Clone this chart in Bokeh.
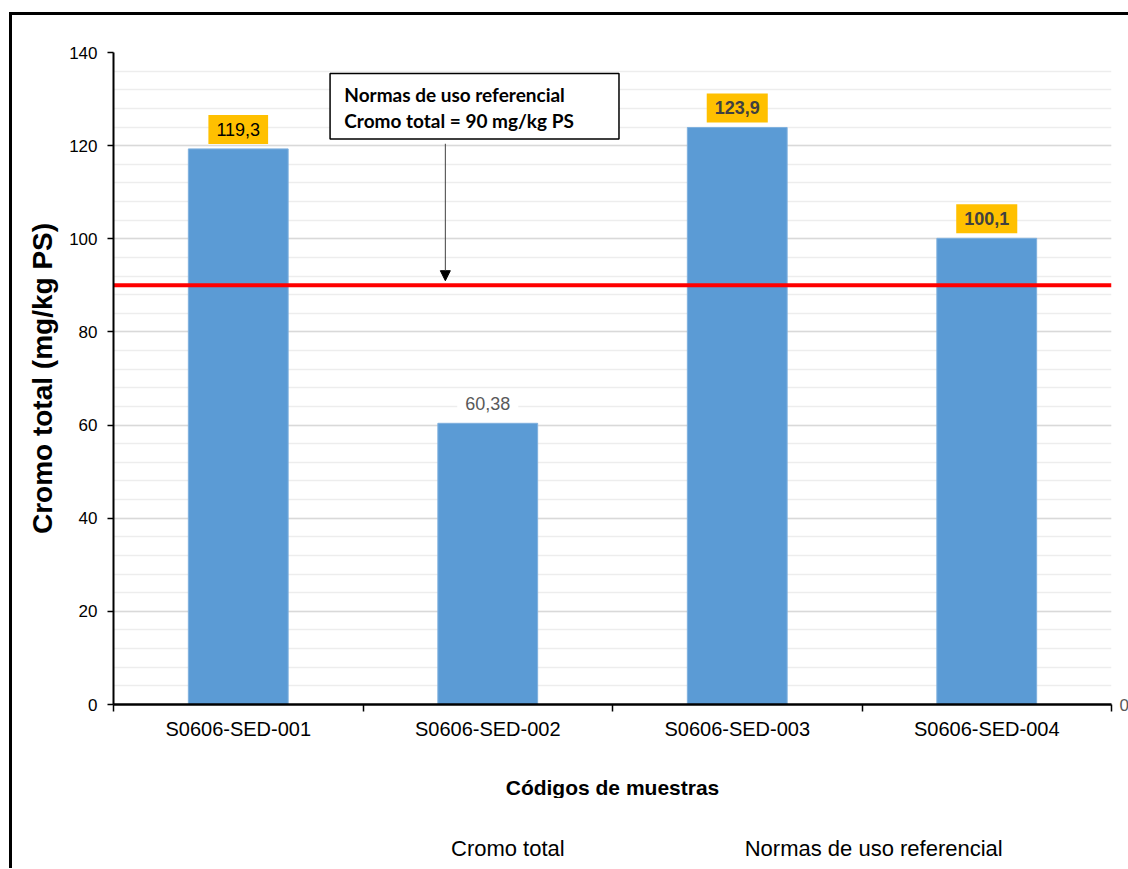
from bokeh.plotting import figure
from bokeh.layouts import column
from bokeh.models import (Range1d, LinearAxis, FixedTicker, ColumnDataSource,
                          SingleIntervalTicker, BoxAnnotation, Label, Arrow, NormalHead,
                          Legend, LegendItem)
from bokeh.embed import file_html
from bokeh.resources import INLINE

# ---- data ----
categories = ["S0606-SED-001", "S0606-SED-002", "S0606-SED-003", "S0606-SED-004"]
values = [119.3, 60.38, 123.9, 100.1]
threshold = 90
y_max = 140
value_text = [str(v).replace(".", ",") for v in values]
label_bg = ["#FFC000", "white", "#FFC000", "#FFC000"]
label_color = ["black", "#595959", "#404040", "#404040"]
label_style = ["normal", "normal", "bold", "bold"]
note_lines = ["Normas de uso referencial", "Cromo total = 90 mg/kg PS"]
legend_labels = ["Cromo total", "Normas de uso referencial"]

FONT = "Liberation Sans"
BAR_COLOR = "#5B9BD5"
BAR_EDGE = "#7FB0DE"
REF_COLOR = "#FF0000"

n = len(categories)
centers = [i + 0.5 for i in range(n)]
src = ColumnDataSource(dict(x=centers, top=values, cat=categories))

p = figure(frame_width=995, frame_height=649, x_range=Range1d(0, n),
           y_range=Range1d(0, y_max), output_backend="svg", toolbar_location=None,
           x_axis_location=None, y_axis_location="left",
           min_border_left=101, min_border_right=18, min_border_top=37, min_border_bottom=10)
p.styles = {"margin-left": "9px", "margin-top": "12px",
            "border-left": "3px solid black", "border-top": "3px solid black"}
p.outline_line_color = None
p.background_fill_color = "white"
p.border_fill_color = "white"

# y axis
yax = p.yaxis[0]
yax.ticker = SingleIntervalTicker(interval=20, num_minor_ticks=5)
yax.axis_line_color = "black"
yax.axis_line_width = 2
yax.major_tick_out = 6
yax.major_tick_in = 0
yax.major_tick_line_width = 1.5
yax.minor_tick_line_color = None
yax.major_label_text_font = FONT
yax.major_label_text_font_size = "17px"
yax.major_label_text_color = "black"
yax.major_label_standoff = 10
yax.axis_label = "Cromo total (mg/kg PS)"
yax.axis_label_text_font = FONT
yax.axis_label_text_font_style = "bold"
yax.axis_label_text_font_size = "28px"
yax.axis_label_text_color = "black"
yax.axis_label_standoff = 8

p.ygrid.grid_line_color = "#D9D9D9"
p.ygrid.grid_line_width = 1.3
p.ygrid.minor_grid_line_color = "#EDEDED"
p.ygrid.minor_grid_line_width = 1.3
p.xgrid.visible = False

# x axis: labels at category centres, ticks (minor) at category boundaries
cat_axis = LinearAxis(ticker=FixedTicker(ticks=centers, minor_ticks=list(range(n + 1))),
                      major_label_overrides={c: lab for c, lab in zip(centers, categories)},
                      axis_line_color="black", axis_line_width=2.5,
                      major_tick_line_color=None, major_tick_out=0, major_tick_in=0,
                      minor_tick_line_color="black", minor_tick_line_width=1.5,
                      minor_tick_out=7, minor_tick_in=0,
                      major_label_text_font=FONT, major_label_text_font_size="20px",
                      major_label_text_color="black", major_label_standoff=6,
                      axis_label="Códigos de muestras", axis_label_text_font=FONT,
                      axis_label_text_font_style="bold", axis_label_text_font_size="21px",
                      axis_label_text_color="black", axis_label_standoff=33)
p.add_layout(cat_axis, "below")

# right axis stub (partially visible "0")
right_axis = LinearAxis(ticker=FixedTicker(ticks=[0], minor_ticks=[]),
                        axis_line_color=None, major_tick_line_color=None,
                        major_tick_out=0, major_tick_in=0,
                        minor_tick_line_color=None, major_label_text_font=FONT,
                        major_label_text_font_size="17px", major_label_text_color="#595959",
                        major_label_standoff=8)
p.add_layout(right_axis, "right")

# bars
bars = p.vbar(x="x", top="top", source=src, width=0.4, fill_color=BAR_COLOR,
              line_color=BAR_EDGE, line_width=1)

# threshold line
ref = p.line(x=[p.x_range.start, p.x_range.end], y=[threshold, threshold],
             line_color=REF_COLOR, line_width=4)

# value labels
for i, (v, t) in enumerate(zip(values, value_text)):
    p.add_layout(Label(x=centers[i], y=v, text=t, text_align="center",
                       text_baseline="bottom", y_offset=5, text_font=FONT,
                       text_font_size="18px", text_font_style=label_style[i],
                       text_color=label_color[i], background_fill_color=label_bg[i],
                       padding=8))

# callout box
p.add_layout(BoxAnnotation(left=0.868, right=2.026, top=135.5, bottom=121.4,
                           fill_color="white", fill_alpha=1,
                           line_color="black", line_alpha=1, line_width=1.5))
for j, line in enumerate(note_lines):
    p.add_layout(Label(x=0.925, y=130.9 - j * 5.6, text=line,
                       text_baseline="middle", text_align="left", text_font="Lato",
                       text_font_style="bold", text_font_size="19px", text_color="black"))
p.add_layout(Arrow(end=NormalHead(size=10, fill_color="black", line_color="black"),
                   x_start=1.33, y_start=120.4, x_end=1.33, y_end=91.0,
                   line_color="#404040", line_width=1))

# legend strip below the chart
leg_fig = figure(width=1114, height=70, x_range=Range1d(0, 1), y_range=Range1d(0, 1),
                 output_backend="svg", toolbar_location=None,
                 x_axis_location=None, y_axis_location=None, min_border=0)
leg_fig.styles = {"margin-left": "9px", "border-left": "3px solid black"}
leg_fig.outline_line_color = None
leg_fig.xgrid.visible = False
leg_fig.ygrid.visible = False
leg_fig.background_fill_color = "white"
leg_fig.border_fill_color = "white"
lbar = leg_fig.vbar(x=[], top=[], width=0.4, fill_color=BAR_COLOR, line_color=BAR_EDGE,
                    line_width=1)
lref = leg_fig.line(x=[], y=[], line_color=REF_COLOR, line_width=4)
legend = Legend(items=[LegendItem(label=legend_labels[0], renderers=[lbar]),
                       LegendItem(label=legend_labels[1], renderers=[lref])],
                orientation="horizontal", location=(298, 6),
                label_text_font=FONT, label_text_font_size="22px", label_text_color="black",
                glyph_width=36, glyph_height=12, label_height=22, label_standoff=4,
                spacing=140, padding=0, margin=0,
                border_line_color=None, background_fill_alpha=0)
leg_fig.add_layout(legend, "center")

layout = column(p, leg_fig, spacing=0)

open("out.html", "w").write(file_html(layout, INLINE))
